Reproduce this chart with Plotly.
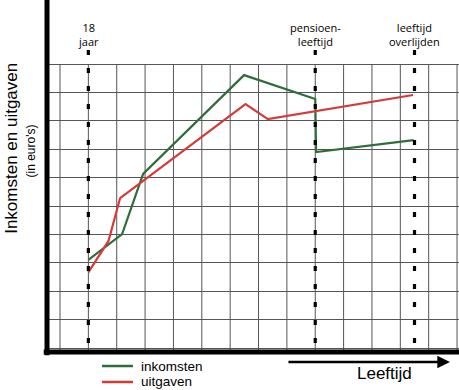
import plotly.graph_objects as go

# ---- data (grid units: x = age steps, y = amount steps) ----
ink_x = [1.0, 2.19, 2.93, 6.49, 9.0, 9.03, 12.47]
ink_y = [3.10, 4.01, 6.13, 9.61, 8.77, 6.90, 7.32]

uit_x = [1.0, 1.71, 2.12, 6.54, 7.33, 12.45]
uit_y = [2.66, 3.77, 5.28, 8.59, 8.06, 8.91]

marker_x = [1, 9, 12.5]
marker_labels = ["18<br>jaar", "pensioen-<br>leeftijd", "leeftijd<br>overlijden"]

x_grid = list(range(0, 15))
y_grid = list(range(0, 11))

GREEN = "#2f6e3a"
RED = "#d43a3a"
GRID = "#555555"

fig = go.Figure()
fig.add_trace(go.Scatter(x=ink_x, y=ink_y, mode="lines", name="inkomsten",
                         line=dict(color=GREEN, width=2.2), showlegend=False))
fig.add_trace(go.Scatter(x=uit_x, y=uit_y, mode="lines", name="uitgaven",
                         line=dict(color=RED, width=2.2), showlegend=False))

shapes = []
# vertical grid lines (stop at the top grid line)
for gx in x_grid:
    shapes.append(dict(type="line", xref="x", yref="y", x0=gx, x1=gx, y0=-0.2, y1=10,
                       line=dict(color=GRID, width=1), layer="below"))
# dashed marker lines
for mx in marker_x:
    shapes.append(dict(type="line", xref="x", yref="y", x0=mx, x1=mx, y0=10.49, y1=0.1,
                       line=dict(color="black", width=3.2, dash="5px,13px")))
# axis lines
shapes.append(dict(type="line", xref="paper", yref="paper", x0=-0.008, x1=1.0, y0=0, y1=0,
                   line=dict(color="black", width=5)))
shapes.append(dict(type="line", xref="paper", yref="paper", x0=0, x1=0, y0=-0.009, y1=1.0,
                   line=dict(color="black", width=5)))
# legend lines
shapes.append(dict(type="line", xref="paper", yref="paper", x0=0.1335, x1=0.2087,
                   y0=-0.0398, y1=-0.0398, line=dict(color=GREEN, width=2.5)))
shapes.append(dict(type="line", xref="paper", yref="paper", x0=0.1335, x1=0.2087,
                   y0=-0.0852, y1=-0.0852, line=dict(color=RED, width=2.5)))

annotations = []
for mx, lab in zip(marker_x, marker_labels):
    annotations.append(dict(x=mx, y=11.04, xref="x", yref="y", text=lab, showarrow=False,
                            font=dict(family="Open Sans", size=11, color="black"),
                            xanchor="center", yanchor="middle"))
annotations.append(dict(x=0.2233, y=-0.0398, xref="paper", yref="paper", text="inkomsten",
                        showarrow=False, xanchor="left", yanchor="middle",
                        font=dict(family="Liberation Sans", size=13.5, color="black")))
annotations.append(dict(x=0.2233, y=-0.0852, xref="paper", yref="paper", text="uitgaven",
                        showarrow=False, xanchor="left", yanchor="middle",
                        font=dict(family="Liberation Sans", size=13.5, color="black")))
annotations.append(dict(x=0.8192, y=-0.0616, xref="paper", yref="paper", text="Leeftijd",
                        showarrow=False, xanchor="center", yanchor="middle",
                        font=dict(family="Liberation Sans", size=17, color="black")))
annotations.append(dict(x=0.978, y=-0.0284, xref="paper", yref="paper", text="",
                        showarrow=True, ax=-163, ay=0, arrowhead=2, arrowsize=1.1,
                        arrowwidth=2.3, arrowcolor="black"))
annotations.append(dict(x=-0.085, y=0.58, xref="paper", yref="paper",
                        text="Inkomsten en uitgaven", textangle=-90, showarrow=False,
                        xanchor="center", yanchor="middle",
                        font=dict(family="Liberation Sans", size=17, color="black")))
annotations.append(dict(x=-0.04, y=0.571, xref="paper", yref="paper",
                        text="(in euro's)", textangle=-90, showarrow=False,
                        xanchor="center", yanchor="middle",
                        font=dict(family="Liberation Sans", size=12, color="black")))

fig.update_layout(
    width=459, height=390,
    margin=dict(l=47, r=0, t=0, b=38),
    paper_bgcolor="white", plot_bgcolor="white",
    xaxis=dict(range=[-0.4584, 14.069], showticklabels=False,
               showgrid=False, zeroline=False, showline=False, ticks=""),
    yaxis=dict(range=[-0.1408, 12.254], tickvals=y_grid, showticklabels=False,
               showgrid=True, gridcolor=GRID, gridwidth=1, zeroline=False,
               showline=False, ticks=""),
    shapes=shapes, annotations=annotations,
)

fig.write_html("out.html")
